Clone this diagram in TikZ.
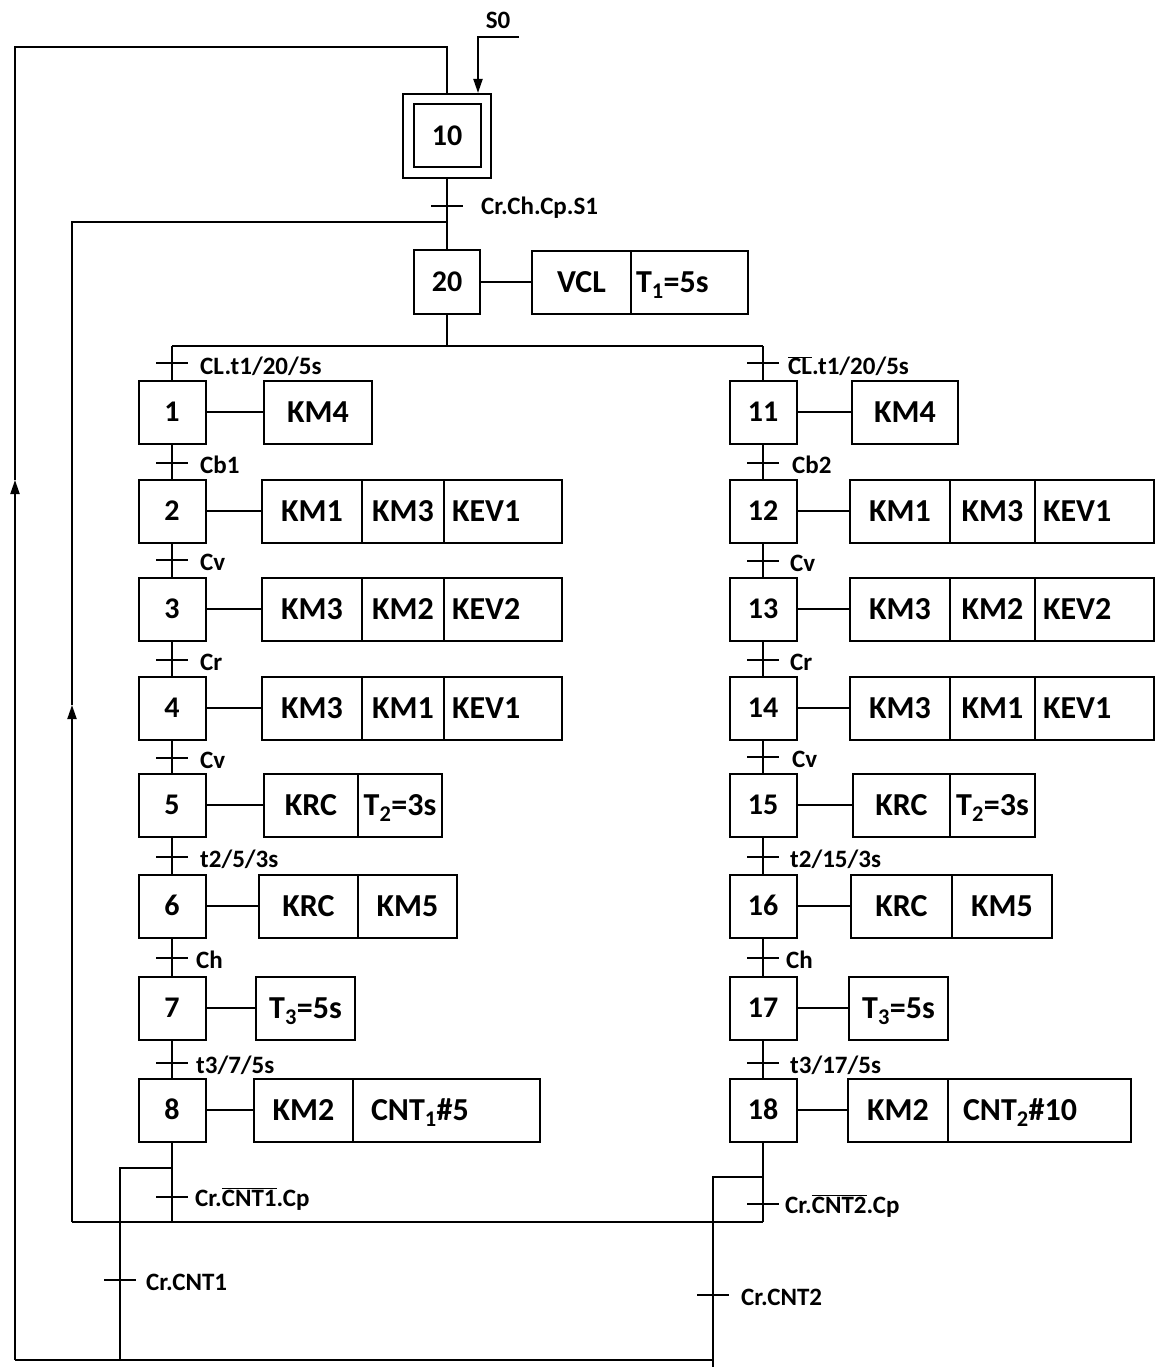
\documentclass[tikz,border=0pt]{standalone}
\usepackage{fontspec}
\setmainfont{Carlito}
\usetikzlibrary{arrows.meta}
\tikzset{
  ln/.style={line width=2pt},
  stepbox/.style={draw, line width=2pt, minimum width=67pt, minimum height=63pt, inner sep=0pt, text height=19pt, text depth=0pt, font=\fontsize{30}{32}\selectfont\bfseries},
  cell/.style={draw, line width=2pt, minimum height=63pt, inner sep=0pt, text height=21pt, text depth=0pt, font=\fontsize{32}{34}\selectfont\bfseries},
  lcell/.style={cell, align=left},
  tick/.style={line width=2.4pt},
  tlabel/.style={anchor=west, inner sep=0pt, font=\fontsize{25}{27}\selectfont\bfseries},
  arr/.style={-{Triangle[length=14pt,width=9pt]}},
}
\newcommand{\trans}[3]{%
  \coordinate (#1) at #2;
  \draw[tick] ([xshift=-16pt]#1) -- ([xshift=16pt]#1);
}
\begin{document}
\begin{tikzpicture}[x=1pt,y=-1pt]
\fill[white] (0,0) rectangle (1160,1367);
\useasboundingbox (0,0) rectangle (1160,1367);

% initial step
\node[draw, line width=2pt, minimum width=88pt, minimum height=84pt] (st10) at (447,136) {};
\node[stepbox] (st10i) at (447,136) {10};
\node[stepbox, minimum width=66pt, minimum height=64pt] (st20) at (447,282) {20};
\node[cell, minimum width=99pt] (a20a) at (581.5,282) {VCL};
\node[lcell, text width=107pt, inner xsep=5pt] (a20b) at (689.5,282) {T\textsubscript{1}=5s};
\draw[ln] (st20) -- (a20a);

% S0
\node[font=\fontsize{25}{27}\selectfont\bfseries, inner sep=0pt] (s0) at (498,20) {S0};
\coordinate (s0r) at (519,37);
\coordinate (s0l) at (478,37);
\draw[ln,arr] (s0r) -- (s0l) -- (s0l |- st10.north);

% left steps
\node[stepbox] (s1) at (172,412) {1};
\node[stepbox] (s2) at (172,511) {2};
\node[stepbox] (s3) at (172,609) {3};
\node[stepbox] (s4) at (172,708) {4};
\node[stepbox] (s5) at (172,805) {5};
\node[stepbox] (s6) at (172,906) {6};
\node[stepbox] (s7) at (172,1008) {7};
\node[stepbox] (s8) at (172,1110) {8};
% right steps
\node[stepbox] (s11) at (763,412) {11};
\node[stepbox] (s12) at (763,511) {12};
\node[stepbox] (s13) at (763,609) {13};
\node[stepbox] (s14) at (763,708) {14};
\node[stepbox] (s15) at (763,805) {15};
\node[stepbox] (s16) at (763,906) {16};
\node[stepbox] (s17) at (763,1008) {17};
\node[stepbox] (s18) at (763,1110) {18};

% left actions
\node[cell, minimum width=108pt] (a1) at (318,412) {KM4};
\node[cell, minimum width=100pt] (a2a) at (312,511) {KM1};
\node[cell, minimum width=82pt] (a2b) at (403,511) {KM3};
\node[lcell, text width=102pt, inner xsep=8pt] (a2c) at (503,511) {KEV1};
\node[cell, minimum width=100pt] (a3a) at (312,609) {KM3};
\node[cell, minimum width=82pt] (a3b) at (403,609) {KM2};
\node[lcell, text width=102pt, inner xsep=8pt] (a3c) at (503,609) {KEV2};
\node[cell, minimum width=100pt] (a4a) at (312,708) {KM3};
\node[cell, minimum width=82pt] (a4b) at (403,708) {KM1};
\node[lcell, text width=102pt, inner xsep=8pt] (a4c) at (503,708) {KEV1};
\node[cell, minimum width=94pt] (a5a) at (311,805) {KRC};
\node[cell, minimum width=84pt] (a5b) at (400,805) {T\textsubscript{2}=3s};
\node[cell, minimum width=99pt] (a6a) at (308.5,906) {KRC};
\node[cell, minimum width=99pt] (a6b) at (407.5,906) {KM5};
\node[cell, minimum width=99pt] (a7) at (305.5,1008) {T\textsubscript{3}=5s};
\node[cell, minimum width=99pt] (a8a) at (303.5,1110) {KM2};
\node[lcell, text width=151pt, inner xsep=18pt] (a8b) at (446.5,1110) {CNT\textsubscript{1}\#5};

% right actions
\node[cell, minimum width=106pt] (a11) at (905,412) {KM4};
\node[cell, minimum width=100pt] (a12a) at (900,511) {KM1};
\node[cell, minimum width=85pt] (a12b) at (992.5,511) {KM3};
\node[lcell, text width=103pt, inner xsep=8pt] (a12c) at (1094.5,511) {KEV1};
\node[cell, minimum width=100pt] (a13a) at (900,609) {KM3};
\node[cell, minimum width=85pt] (a13b) at (992.5,609) {KM2};
\node[lcell, text width=103pt, inner xsep=8pt] (a13c) at (1094.5,609) {KEV2};
\node[cell, minimum width=100pt] (a14a) at (900,708) {KM3};
\node[cell, minimum width=85pt] (a14b) at (992.5,708) {KM1};
\node[lcell, text width=103pt, inner xsep=8pt] (a14c) at (1094.5,708) {KEV1};
\node[cell, minimum width=97pt] (a15a) at (901.5,805) {KRC};
\node[cell, minimum width=85pt] (a15b) at (992.5,805) {T\textsubscript{2}=3s};
\node[cell, minimum width=101pt] (a16a) at (901.5,906) {KRC};
\node[cell, minimum width=100pt] (a16b) at (1002,906) {KM5};
\node[cell, minimum width=99pt] (a17) at (898.5,1008) {T\textsubscript{3}=5s};
\node[cell, minimum width=100pt] (a18a) at (898,1110) {KM2};
\node[lcell, text width=153pt, inner xsep=15pt] (a18b) at (1039.5,1110) {CNT\textsubscript{2}\#10};

% step-action links
\foreach \s/\a in {s1/a1,s2/a2a,s3/a3a,s4/a4a,s5/a5a,s6/a6a,s7/a7,s8/a8a,
                   s11/a11,s12/a12a,s13/a13a,s14/a14a,s15/a15a,s16/a16a,s17/a17,s18/a18a}
  \draw[ln] (\s) -- (\a);

% main flow
\coordinate (j20) at (447,222);
\draw[ln] (st10) -- (st20);
\coordinate (b0) at (447,346);
\coordinate (bl) at (172,346);
\coordinate (br) at (763,346);
\draw[ln] (st20) -- (b0);
\draw[ln] (bl) -- (br);
\draw[ln] (bl) -- (s1);
\draw[ln] (br) -- (s11);
\foreach \a/\b in {s1/s2,s2/s3,s3/s4,s4/s5,s5/s6,s6/s7,s7/s8,
                   s11/s12,s12/s13,s13/s14,s14/s15,s15/s16,s16/s17,s17/s18}
  \draw[ln] (\a) -- (\b);

% lower loops
\coordinate (c8) at (172,1222);
\coordinate (c18) at (763,1222);
\coordinate (p1) at (72,1222);
\coordinate (pA) at (72,705);
\coordinate (p2) at (72,222);
\draw[ln] (s8) -- (c8);
\draw[ln] (s18) -- (c18);
\draw[ln] (p1) -- (c18);
\draw[ln,arr] (p1) -- (pA);
\draw[ln] (pA) -- (p2) -- (j20);

\coordinate (k1) at (172,1168);
\coordinate (k1b) at (120,1168);
\coordinate (q1) at (120,1360);
\coordinate (k2) at (763,1177);
\coordinate (k2b) at (713,1177);
\coordinate (q2) at (713,1360);
\draw[ln] (k1) -- (k1b) -- (q1);
\draw[ln] (k2) -- (k2b) -- (q2) -- (713,1367);

\coordinate (o1) at (15,1360);
\coordinate (oA) at (15,480);
\coordinate (o2) at (15,47);
\coordinate (o3) at (447,47);
\draw[ln] (q2) -- (o1);
\draw[ln,arr] (o1) -- (oA);
\draw[ln] (oA) -- (o2) -- (o3) -- (st10);

% transitions
\trans{t0}{(447,206)}{}
\node[tlabel] (l0) at (481,208) {Cr.Ch.Cp.S1};
\trans{tl1}{(172,363)}{}
\node[tlabel] (ll1) at (200,366) {CL.t1/20/5s};
\trans{tl2}{(172,463)}{}
\node[tlabel] (ll2) at (200,465) {Cb1};
\trans{tl3}{(172,560)}{}
\node[tlabel] (ll3) at (200,562) {Cv};
\trans{tl4}{(172,660)}{}
\node[tlabel] (ll4) at (200,662) {Cr};
\trans{tl5}{(172,758)}{}
\node[tlabel] (ll5) at (200,760) {Cv};
\trans{tl6}{(172,857)}{}
\node[tlabel] (ll6) at (200,859) {t2/5/3s};
\trans{tl7}{(172,958)}{}
\node[tlabel] (ll7) at (196,960) {Ch};
\trans{tl8}{(172,1063)}{}
\node[tlabel] (ll8) at (196,1065) {t3/7/5s};
\trans{tl9}{(172,1197)}{}
\node[tlabel] (ll9) at (195,1199) {Cr.$\overline{\mbox{CNT1}}$.Cp};
\trans{tl10}{(120,1280)}{}
\node[tlabel] (ll10) at (146,1282) {Cr.CNT1};

\trans{tr1}{(763,363)}{}
\node[tlabel] (lr1) at (788,366) {$\overline{\mbox{CL}}$.t1/20/5s};
\trans{tr2}{(763,463)}{}
\node[tlabel] (lr2) at (792,465) {Cb2};
\trans{tr3}{(763,561)}{}
\node[tlabel] (lr3) at (790,563) {Cv};
\trans{tr4}{(763,660)}{}
\node[tlabel] (lr4) at (790,662) {Cr};
\trans{tr5}{(763,757)}{}
\node[tlabel] (lr5) at (792,759) {Cv};
\trans{tr6}{(763,857)}{}
\node[tlabel] (lr6) at (790,859) {t2/15/3s};
\trans{tr7}{(763,958)}{}
\node[tlabel] (lr7) at (786,960) {Ch};
\trans{tr8}{(763,1063)}{}
\node[tlabel] (lr8) at (790,1065) {t3/17/5s};
\trans{tr9}{(763,1204)}{}
\node[tlabel] (lr9) at (785,1206) {Cr.$\overline{\mbox{CNT2}}$.Cp};
\trans{tr10}{(713,1295)}{}
\node[tlabel] (lr10) at (741,1297) {Cr.CNT2};
\end{tikzpicture}
\end{document}
